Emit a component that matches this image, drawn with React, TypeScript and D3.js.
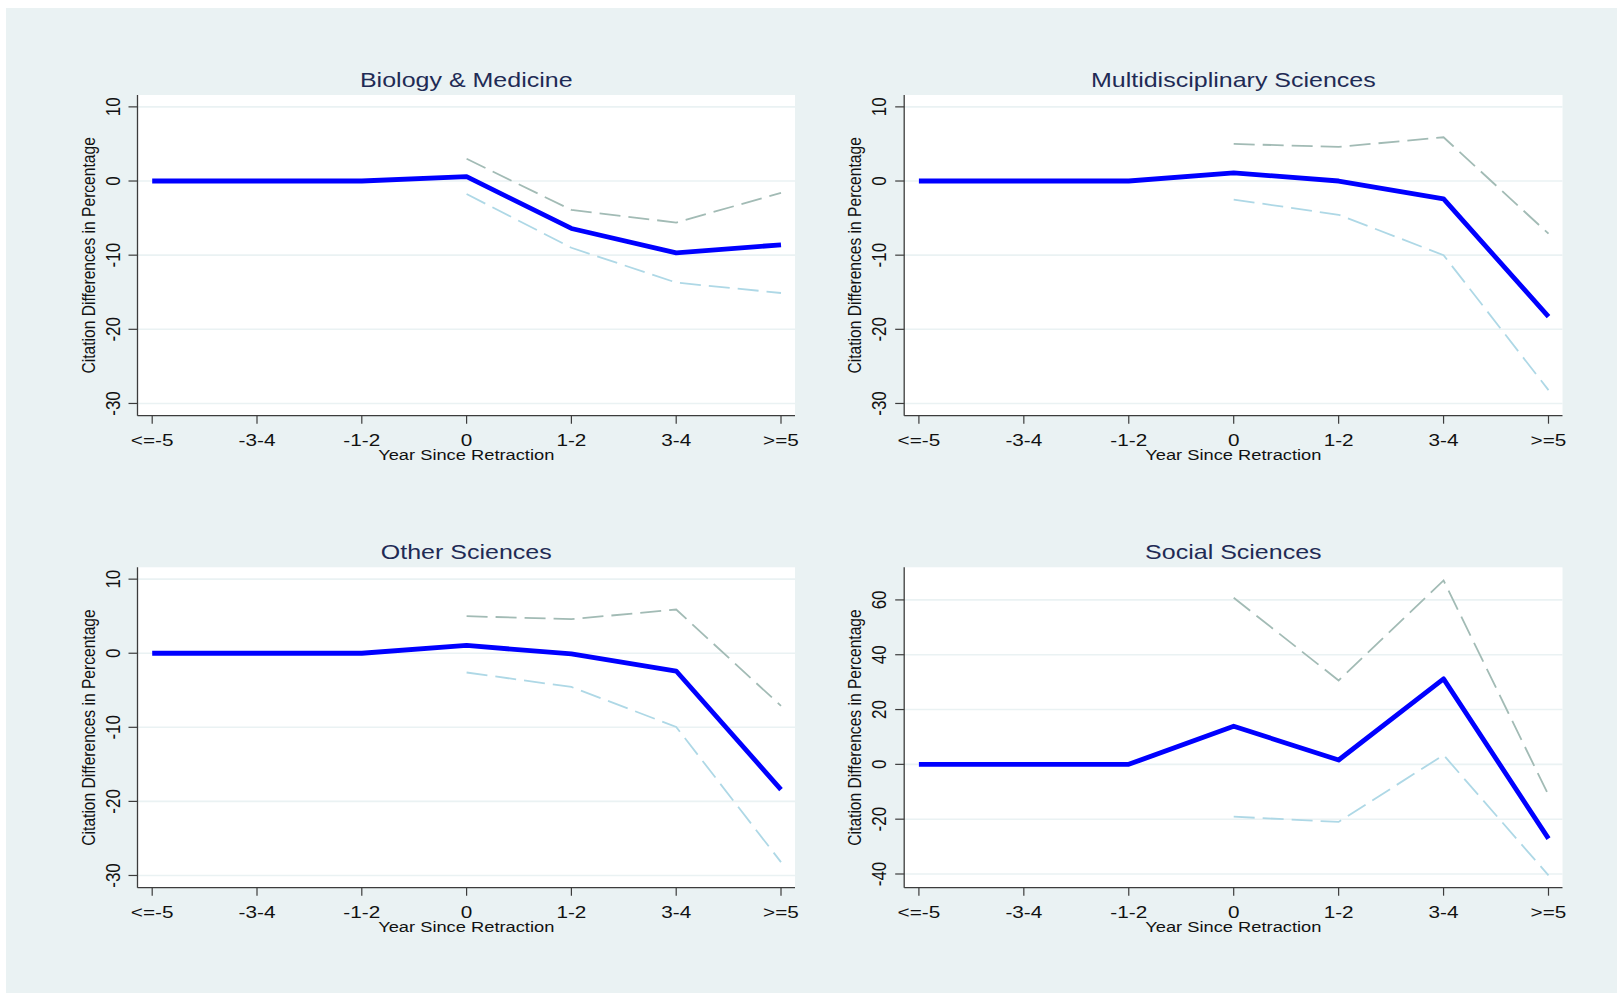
import { useMemo } from "react";
import * as d3 from "d3";

const WIDTH = 1617;
const HEIGHT = 993;
const SX = 1.22; // the picture is stretched a bit horizontally

const categories = ["<=-5", "-3-4", "-1-2", "0", "1-2", "3-4", ">=5"];

const panelTitles = [
  "Biology & Medicine",
  "Multidisciplinary Sciences",
  "Other Sciences",
  "Social Sciences",
];

// point estimates
const bioEst = [0, 0, 0, 0.6, -6.4, -9.7, -8.6];
const multiEst = [0, 0, 0, 1.1, 0, -2.4, -18.3];
const otherEst = [0, 0, 0, 1.05, -0.1, -2.4, -18.4];
const socialEst = [0, 0, 0, 13.9, 1.6, 31.2, -27.1];

// upper bounds (only from year 0)
const bioHi = [null, null, null, 3.0, -3.9, -5.6, -1.6];
const multiHi = [null, null, null, 5.0, 4.6, 5.9, -7.1];
const otherHi = [null, null, null, 5.0, 4.6, 5.9, -7.1];
const socialHi = [null, null, null, 60.8, 30.6, 67.1, -11.2];

// lower bounds
const bioLo = [null, null, null, -1.75, -9.0, -13.7, -15.1];
const multiLo = [null, null, null, -2.5, -4.55, -10.0, -28.2];
const otherLo = [null, null, null, -2.6, -4.55, -9.95, -28.2];
const socialLo = [null, null, null, -19.1, -21.0, 3.4, -40.5];

const ticksSmall = [10, 0, -10, -20, -30];
const ticksSocial = [60, 40, 20, 0, -20, -40];

const domainSmall: [number, number] = [-31.65, 11.6];
const domainSocial: [number, number] = [-45, 71.9];

const X_TITLE = "Year Since Retraction";
const Y_TITLE = "Citation Differences in Percentage";

const panels = [
  { title: panelTitles[0], est: bioEst, hi: bioHi, lo: bioLo, ticks: ticksSmall, domain: domainSmall, x0: 137.5, x1: 795, y0: 95, y1: 415.7 },
  { title: panelTitles[1], est: multiEst, hi: multiHi, lo: multiLo, ticks: ticksSmall, domain: domainSmall, x0: 904.2, x1: 1562.5, y0: 95, y1: 415.7 },
  { title: panelTitles[2], est: otherEst, hi: otherHi, lo: otherLo, ticks: ticksSmall, domain: domainSmall, x0: 137.5, x1: 795, y0: 567.3, y1: 887.7 },
  { title: panelTitles[3], est: socialEst, hi: socialHi, lo: socialLo, ticks: ticksSocial, domain: domainSocial, x0: 904.2, x1: 1562.5, y0: 567.3, y1: 887.7 },
];

const FONT = "'Liberation Sans', Arial, sans-serif";

type Panel = (typeof panels)[number];

const StretchText = ({ x, y, size, fill, children, rotate = false, anchor = "middle" }: any) => (
  <g transform={`translate(${x},${y}) scale(${SX},1)${rotate ? " rotate(-90)" : ""}`}>
    <text textAnchor={anchor} fontFamily={FONT} fontSize={size} fill={fill}>
      {children}
    </text>
  </g>
);

const PanelChart = ({ p }: { p: Panel }) => {
  const xScale = useMemo(
    () => d3.scalePoint().domain(categories).range([p.x0 + 14.7, p.x1 - 14]),
    [p]
  );
  const yScale = useMemo(() => d3.scaleLinear().domain(p.domain).range([p.y1, p.y0]), [p]);

  const line = d3
    .line<number | null>()
    .defined((d) => d !== null)
    .x((_, i) => xScale(categories[i]) as number)
    .y((d) => yScale(d as number));

  const midX = (p.x0 + p.x1) / 2;
  const midY = (p.y0 + p.y1) / 2;

  return (
    <g>
      <rect x={p.x0} y={p.y0} width={p.x1 - p.x0} height={p.y1 - p.y0} fill="#ffffff" />
      {p.ticks.map((t) => (
        <line key={"g" + t} x1={p.x0} x2={p.x1} y1={yScale(t)} y2={yScale(t)} stroke="#eaf2f3" strokeWidth={1.6} />
      ))}
      <path d={line(p.hi) || ""} fill="none" stroke="#a2bbb5" strokeWidth={1.8} strokeDasharray="21 8" />
      <path d={line(p.lo) || ""} fill="none" stroke="#aed8e6" strokeWidth={1.8} strokeDasharray="21 8" />
      <path d={line(p.est) || ""} fill="none" stroke="#0000ff" strokeWidth={4.8} strokeLinejoin="round" />
      {/* axes */}
      <line x1={p.x0} x2={p.x0} y1={p.y0} y2={p.y1} stroke="#3c3c3c" strokeWidth={1.3} />
      <line x1={p.x0} x2={p.x1} y1={p.y1} y2={p.y1} stroke="#3c3c3c" strokeWidth={1.3} />
      {p.ticks.map((t) => (
        <g key={"t" + t}>
          <line x1={p.x0 - 9} x2={p.x0} y1={yScale(t)} y2={yScale(t)} stroke="#3c3c3c" strokeWidth={1.2} />
          <StretchText x={p.x0 - 18} y={yScale(t)} size={17} fill="#111" rotate>
            {t}
          </StretchText>
        </g>
      ))}
      {categories.map((c) => (
        <g key={c}>
          <line x1={xScale(c)} x2={xScale(c)} y1={p.y1} y2={p.y1 + 8} stroke="#3c3c3c" strokeWidth={1.2} />
          <StretchText x={xScale(c)} y={p.y1 + 30} size={17} fill="#111">
            {c}
          </StretchText>
        </g>
      ))}
      <StretchText x={midX} y={p.y1 + 44.5} size={15} fill="#111">
        {X_TITLE}
      </StretchText>
      <StretchText x={p.x0 - 43} y={midY} size={15.6} fill="#111" rotate>
        {Y_TITLE}
      </StretchText>
      <StretchText x={midX} y={p.y0 - 8.5} size={20.5} fill="#1f2b55">
        {p.title}
      </StretchText>
    </g>
  );
};

export default function App() {
  return (
    <svg width={WIDTH} height={HEIGHT} style={{ position: "absolute", left: 0, top: 0 }}>
      <rect x={0} y={0} width={WIDTH} height={HEIGHT} fill="#ffffff" />
      <rect x={6} y={8} width={WIDTH - 6} height={HEIGHT - 8} fill="#eaf2f3" />
      {panels.map((p) => (
        <PanelChart key={p.title} p={p} />
      ))}
    </svg>
  );
}
